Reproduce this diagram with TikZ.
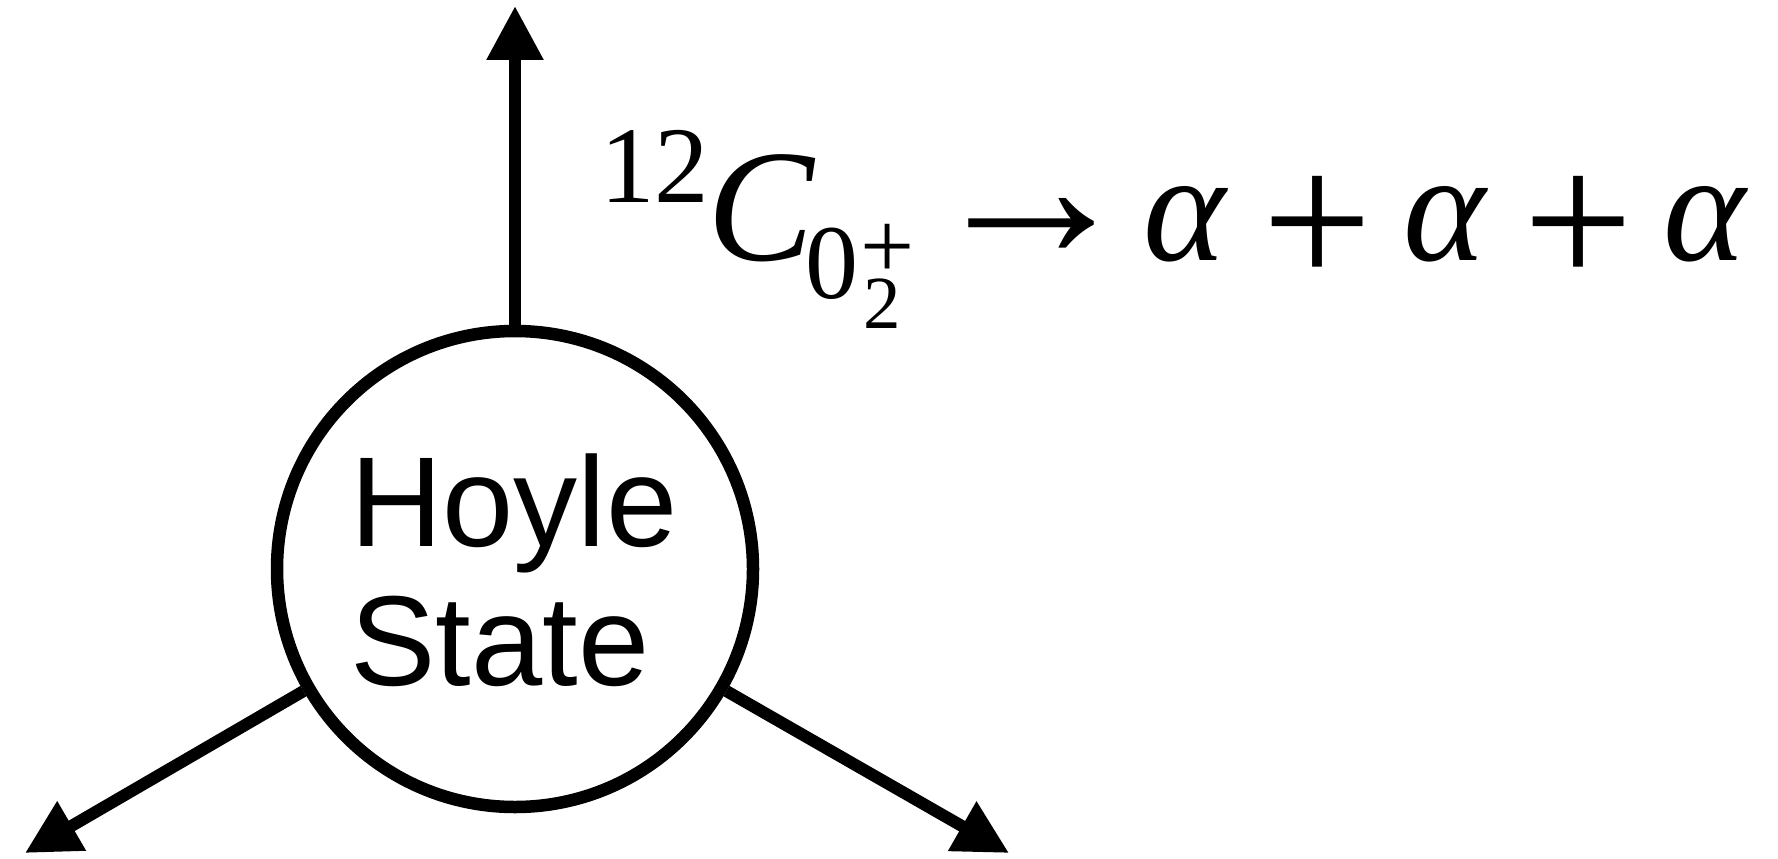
\documentclass[tikz,border=0pt]{standalone}
\usepackage{fontspec}
\setmainfont{Liberation Serif}
\newfontfamily\labelfont{Liberation Sans}
\usetikzlibrary{arrows.meta}
\tikzset{
  ray/.style={line width=12pt, -{Triangle[length=54pt,width=54pt]}},
  statecircle/.style={circle, draw, line width=12.5pt, minimum size=476pt, inner sep=0pt},
  statelabel/.style={inner sep=0pt, outer sep=0pt, align=left,
    font=\labelfont\fontsize{128}{139}\selectfont},
  ftxt/.style={inner sep=0pt, outer sep=0pt},
}
\begin{document}
\begin{tikzpicture}[x=1pt,y=-1pt]
\useasboundingbox (0,0) rectangle (1778,859);
\node[statecircle] (hoyle) at (515,569) {};
\node[statelabel] (hoyletext) at (514,570) {Hoyle\\State};
\coordinate (up) at (515,6);
\coordinate (ll) at (25,853);
\coordinate (lr) at (1009,853);
\draw[ray] (hoyle.90) -- (up);
\draw[ray] (hoyle.210) -- (ll);
\draw[ray] (hoyle.330) -- (lr);
% formula
\node[ftxt, anchor=base east, font=\fontsize{109}{109}\selectfont] (mass) at (709,202) {12};
\node[ftxt, anchor=base west, font=\itshape\fontsize{160}{160}\selectfont] (carbon) at (707,260) {C};
\node[ftxt, anchor=base west, font=\fontsize{106}{106}\selectfont] (zero) at (805,298) {0};
\node[ftxt, anchor=base west, font=\fontsize{96}{96}\selectfont] (parity) at (860,278) {+};
\node[ftxt, anchor=base west, font=\fontsize{75}{75}\selectfont] (two) at (863,328) {2};
\node[ftxt, anchor=base west, font=\fontsize{212}{212}\selectfont] (arrow) at (925,258) {→};
\node[ftxt, anchor=base west, font=\itshape\fontsize{157}{157}\selectfont] (a1) at (1143,260) {α};
\node[ftxt, anchor=base west, font=\fontsize{195}{195}\selectfont] (p1) at (1262,286) {+};
\node[ftxt, anchor=base west, font=\itshape\fontsize{157}{157}\selectfont] (a2) at (1403,260) {α};
\node[ftxt, anchor=base west, font=\fontsize{195}{195}\selectfont] (p2) at (1523,286) {+};
\node[ftxt, anchor=base west, font=\itshape\fontsize{157}{157}\selectfont] (a3) at (1663,260) {α};
\end{tikzpicture}
\end{document}
